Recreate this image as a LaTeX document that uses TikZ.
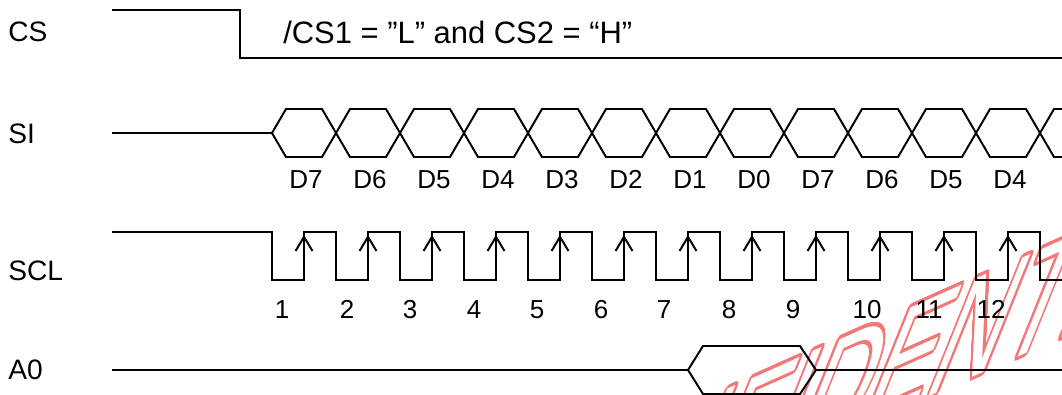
\documentclass[tikz,border=0pt]{standalone}
\usepackage{fontspec}
\setmainfont{Liberation Sans}
\usepackage{contour}
\usetikzlibrary{arrows.meta}
\contourlength{0.45pt}
\contournumber{32}
\definecolor{wmred}{RGB}{242,120,120}

\begin{document}
\begin{tikzpicture}[x=0.025cm, y=0.025cm,
    wave/.style={line width=1.4pt},
    lbl/.style={anchor=base west, inner sep=0pt, font=\fontsize{20}{24}\selectfont},
    num/.style={anchor=base, inner sep=0pt, font=\fontsize{18.5}{22}\selectfont},
    edge/.style={line width=1.4pt, -{Straight Barb[length=10pt, width=12pt]}}]

    \useasboundingbox (0,0) rectangle (1062,-394);
    \clip (0,0) rectangle (1062,-394);

    % Watermark (behind the signals)
    \begin{scope}[cm={3.5,1.56,2.45,6.1,(477,-598)}]
        \node[transform shape, anchor=base west, inner sep=0pt, text=white,
              font=\fontsize{20}{24}\selectfont] (wm) at (0,0) {\contour{wmred}{CONFIDENTIAL}};
    \end{scope}

    % Signal names
    \node[lbl] (cs) at (8,-42) {CS};
    \node[lbl] (si) at (8,-143) {SI};
    \node[lbl] (scl) at (8,-280) {SCL};
    \node[lbl] (a0) at (8,-379) {A0};

    % CS line
    \draw[wave] (112,-10) -- (240,-10) -- (240,-58) -- (1062,-58);
    \node[lbl, font=\fontsize{22}{26}\selectfont] (csnote) at (283,-44) {/CS1 = ”L” and CS2 = “H”};

    % SI data bits
    \draw[wave] (112,-133) -- (272,-133);
    \foreach \a in {272,336,...,1040} {
        \draw[wave] (\a,-133) -- ++(14,24) -- ++(36,0) -- ++(14,-24)
            -- ++(-14,-24) -- ++(-36,0) -- cycle;
    }
    \foreach \d [count=\i from 0] in {7,6,5,4,3,2,1,0,7,6,5,4}
        \node[num] (d\i) at (306+64*\i,-188) {D\d};

    % SCL clock with rising edges
    \draw[wave] (112,-232)
        \foreach \a in {272,336,...,976} { -- (\a,-232) -- (\a,-280) -- (\a+32,-280) -- (\a+32,-232) }
        -- (1040,-232) -- (1040,-280) -- (1062,-280);
    \foreach \a in {304,368,...,1008}
        \draw[edge] (\a,-280) -- (\a,-235);
    \foreach \n/\x in {1/282,2/347,3/410,4/474,5/537,6/601,7/664,8/729,9/793,10/867,11/929,12/991}
        \node[num] (n\n) at (\x,-318) {\n};

    % A0
    \draw[wave] (112,-370) -- (688,-370);
    \draw[wave] (688,-370) -- (703,-346) -- (800,-346) -- (816,-370)
        -- (800,-394) -- (703,-394) -- cycle;
    \draw[wave] (816,-370) -- (1062,-370);

\end{tikzpicture}
\end{document}
